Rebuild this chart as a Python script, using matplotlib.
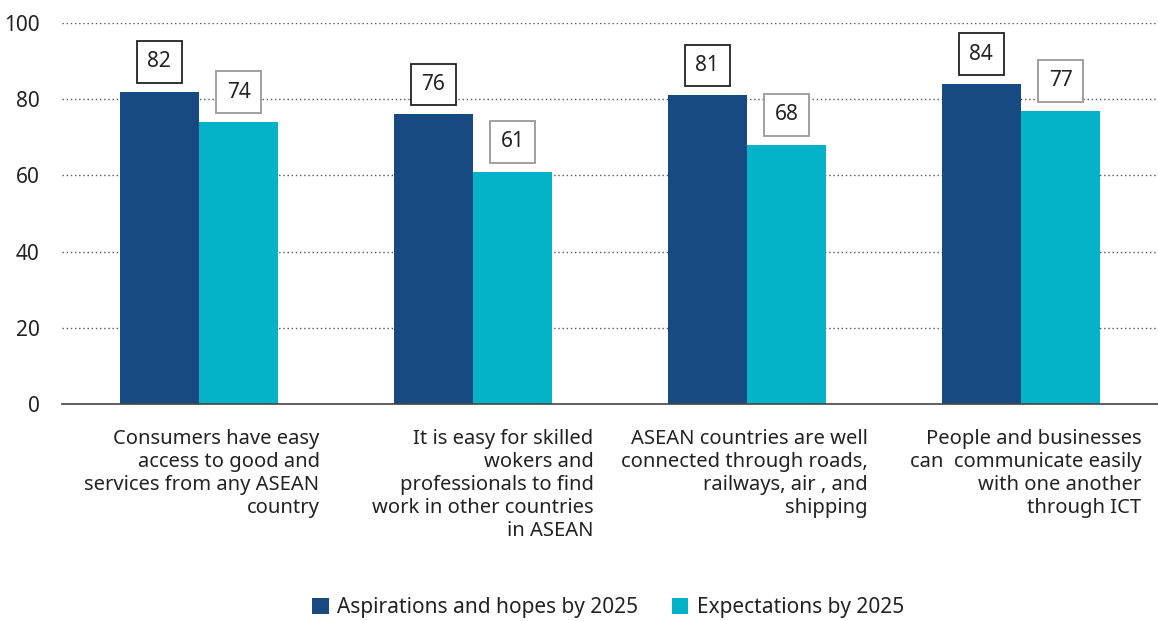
import numpy as np
import matplotlib
matplotlib.use("Agg")
import matplotlib.pyplot as plt

plt.rcParams['font.family'] = ['Noto Sans', 'DejaVu Sans']

# data
categories = [
    "Consumers have easy\naccess to good and\nservices from any ASEAN\ncountry",
    "It is easy for skilled\nwokers and\nprofessionals to find\nwork in other countries\nin ASEAN",
    "ASEAN countries are well\nconnected through roads,\nrailways, air , and\nshipping",
    "People and businesses\ncan  communicate easily\nwith one another\nthrough ICT",
]
aspirations = [82, 76, 81, 84]
expectations = [74, 61, 68, 77]
series_names = ["Aspirations and hopes by 2025", "Expectations by 2025"]

dark = "#164a80"
light = "#05b3c9"

fig = plt.figure(figsize=(11.58, 6.21), dpi=100)
ax = fig.add_axes([62/1158, 1-404/621, 1-62/1158, (404-23)/621])

x = np.arange(len(categories))
w = 0.29
b1 = ax.bar(x - w/2, aspirations, w, color=dark, label=series_names[0], zorder=3)
b2 = ax.bar(x + w/2, expectations, w, color=light, label=series_names[1], zorder=3)

# value labels in boxes
for bars, vals, ec in [(b1, aspirations, "#222222"), (b2, expectations, "#999999")]:
    for r, v in zip(bars, vals):
        ax.annotate(str(v), (r.get_x() + r.get_width()/2, v),
                    xytext=(0, 14), textcoords="offset points",
                    ha="center", va="bottom", fontsize=15, color="#222222",
                    bbox=dict(boxstyle="square,pad=0.5", fc="white", ec=ec, lw=1.3),
                    zorder=5)

ax.set_xlim(-0.5, 3.5)
ax.set_ylim(0, 100)
ax.set_yticks([0, 20, 40, 60, 80, 100])
ax.tick_params(axis="y", length=0, labelsize=15, pad=16, labelcolor="#222222")
ax.set_xticks([])
ax.yaxis.grid(True, linestyle=(0, (1, 2)), color="#555555", lw=1, zorder=0)
for s in ["top", "right", "left"]:
    ax.spines[s].set_visible(False)
ax.spines["bottom"].set_color("#444444")
ax.spines["bottom"].set_linewidth(1.2)
ax.spines["bottom"].set_zorder(4)

# category labels, right aligned under each group
for i, c in enumerate(categories):
    ax.text(i + 0.44, -6.5, c, ha="right", va="top", multialignment="right",
            fontsize=14.5, color="#222222", linespacing=1.2)

fig.legend(loc="lower center", bbox_to_anchor=(0.525, -0.025), ncol=2, frameon=False,
           fontsize=15, handlelength=0.8, handleheight=0.8, handletextpad=0.4,
           columnspacing=1.6, labelcolor="#222222")

fig.savefig("out.png", dpi=100)
